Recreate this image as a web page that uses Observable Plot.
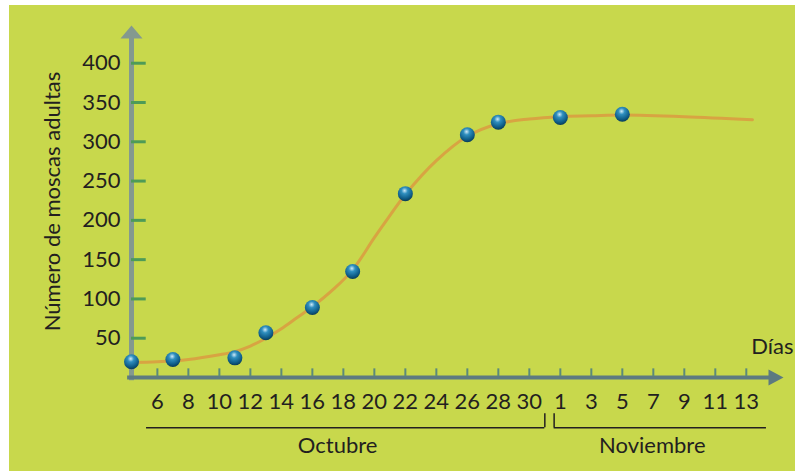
<!DOCTYPE html>
<html>
<head>
<meta charset="utf-8">
<script src="https://cdn.jsdelivr.net/npm/d3@7"></script>
<script src="https://cdn.jsdelivr.net/npm/@observablehq/plot@0.6"></script>
<style>
  html, body { margin: 0; padding: 0; background: #ffffff; }
  #wrap { position: absolute; left: 9px; top: 5px; width: 786px; height: 466px; background: #c8d84c; overflow: hidden; }
  #wrap svg { overflow: visible; }
</style>
</head>
<body>
<div id="wrap"></div>
<script>
// ---- Data (day numbers counted from 1 October; 1 November = 32) ----
const pointDays   = [4.33, 7, 11, 13, 16, 18.6, 22, 26, 28, 32, 36];
const pointValues = [20, 23, 25, 57, 89, 135, 234, 309, 325, 331, 335];

// fitted curve
const curveDays   = [4.33, 6, 8, 10, 11, 12, 13, 14, 15, 16, 17.4, 18.6, 20, 21, 22, 24, 26, 28, 30, 32, 34, 36, 40, 44.4];
const curveValues = [19, 20, 23, 29, 33, 40, 50, 62, 76, 90, 113, 137, 178, 206, 233, 276, 307, 323, 329, 332, 333, 334, 332, 328];

const xTicks      = [6, 8, 10, 12, 14, 16, 18, 20, 22, 24, 26, 28, 30, 32, 34, 36, 38, 40, 42, 44];
const xTickLabels = ["6","8","10","12","14","16","18","20","22","24","26","28","30","1","3","5","7","9","11","13"];
const yTicks      = [50, 100, 150, 200, 250, 300, 350, 400];

const monthNames  = ["Octubre", "Noviembre"];
const monthStart  = [5.3, 31.6];
const monthEnd    = [31.0, 45.3];
const monthHookAt = [31.0, 31.6];

const yTitle = "Número de moscas adultas";
const xTitle = "Días";

// ---- layout constants ----
const xMin = 4.33, xMax = 46.4, yMax = 448;
const yArrowBase = 434, xArrowBase = 45.5;
const bracketY = -64, hookY = -46;
const FS = 22;

const points = pointDays.map((d, i) => ({day: d, value: pointValues[i]}));
const curve  = curveDays.map((d, i) => ({day: d, value: curveValues[i]}));
const months = monthNames.map((n, i) => ({name: n, start: monthStart[i], end: monthEnd[i], mid: (monthStart[i] + monthEnd[i]) / 2}));

const upTriangle = { draw(ctx) { ctx.moveTo(0, 0); ctx.lineTo(-11, 13); ctx.lineTo(11, 13); ctx.closePath(); } };
const rightTriangle = { draw(ctx) { ctx.moveTo(0, 0); ctx.lineTo(-15, -8); ctx.lineTo(-15, 8); ctx.closePath(); } };

const axisColorY = "#84998f";
const axisColorX = "#5d7a80";
const ink = "#231f20";

const chart = Plot.plot({
  width: 786,
  height: 466,
  marginLeft: 122,
  marginRight: 12,
  marginTop: 20,
  marginBottom: 94,
  style: { background: "transparent", fontFamily: "Lato, 'Open Sans', sans-serif", fontSize: FS + "px", color: ink, overflow: "visible" },
  x: { domain: [xMin, xMax] },
  y: { domain: [0, yMax] },
  marks: [
    // axis lines
    Plot.ruleX([xMin], { y1: -4, y2: yArrowBase, stroke: axisColorY, strokeWidth: 5 }),
    Plot.dot([{x: xMin, y: yMax}], { x: "x", y: "y", symbol: upTriangle, fill: axisColorY, stroke: "none" }),
    Plot.ruleY([0], { x1: xMin - 0.25, x2: xArrowBase, stroke: axisColorX, strokeWidth: 4 }),
    Plot.dot([{x: xMax, y: 0}], { x: "x", y: "y", symbol: rightTriangle, fill: axisColorX, stroke: "none" }),
    // tick marks
    Plot.ruleY(yTicks, { x1: xMin, x2: xMin + 0.95, stroke: "#4e9b57", strokeWidth: 3 }),
    Plot.ruleX(xTicks, { y1: 1, y2: 11, stroke: "#5b8a7a", strokeWidth: 2 }),
    // tick labels
    Plot.axisY({ ticks: yTicks, tickSize: 0, tickPadding: 11, label: null, fontSize: FS, fill: ink }),
    Plot.axisX({ ticks: xTicks, tickFormat: d => xTickLabels[xTicks.indexOf(d)], tickSize: 0, tickPadding: 16, label: null, fontSize: FS, fill: ink }),
    // titles
    Plot.text([yTitle], { frameAnchor: "left", textAnchor: "middle", dx: -79, rotate: -90, text: d => d, fontSize: FS, fill: ink }),
    Plot.text([xTitle], { frameAnchor: "bottom-right", dx: 10, dy: -24, textAnchor: "end", text: d => d, fontSize: FS, fill: ink }),
    // month brackets
    Plot.ruleY(months, { x1: "start", x2: "end", y: bracketY, stroke: ink, strokeWidth: 1.5 }),
    Plot.ruleX(monthHookAt, { y1: bracketY, y2: hookY, stroke: ink, strokeWidth: 1.5 }),
    Plot.text(months, { x: "mid", y: bracketY, dy: 18, dx: -8, text: "name", fontSize: FS, fill: ink }),
    // fitted curve
    Plot.line(curve, { x: "day", y: "value", curve: "catmull-rom", stroke: "#d8a442", strokeWidth: 3 }),
    // data points
    Plot.dot(points, { x: "day", y: "value", r: 7.5, fill: "url(#ball)", stroke: "none" })
  ]
});

// gradient for the balls
const ns = "http://www.w3.org/2000/svg";
const defs = document.createElementNS(ns, "defs");
defs.innerHTML = `<radialGradient id="ball" cx="0.45" cy="0.3" r="0.7">
  <stop offset="0" stop-color="#cfeaf8"/>
  <stop offset="0.3" stop-color="#2f8fbf"/>
  <stop offset="0.75" stop-color="#0f5d88"/>
  <stop offset="1" stop-color="#0a3c58"/>
</radialGradient>`;
chart.insertBefore(defs, chart.firstChild);

document.getElementById("wrap").appendChild(chart);
</script>
</body>
</html>
